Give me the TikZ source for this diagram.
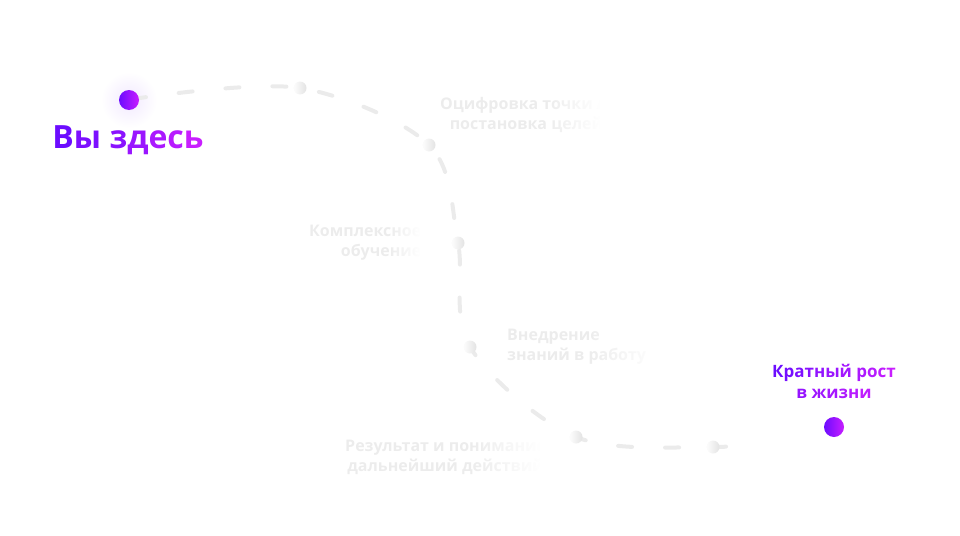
\documentclass[tikz,border=0pt]{standalone}
\usepackage{fontspec}
\setmainfont{Open Sans}
\usetikzlibrary{fadings}

\definecolor{vStart}{HTML}{6C0CFF}
\definecolor{vEnd}{HTML}{C81EFF}
\colorlet{vLineA}{vStart!55!vEnd}
\colorlet{vLineB}{vStart!10!vEnd}
\definecolor{pathgray}{HTML}{EBEBEB}
\definecolor{labelgray}{HTML}{ECECEC}

% colour each letter between two colours
\ExplSyntaxOn
\int_new:N \l_grad_pos_int
\int_new:N \l_grad_len_int
\seq_new:N \l_grad_words_seq
\NewDocumentCommand \gradtext { m m m }
  {
    \int_set:Nn \l_grad_len_int { \tl_count:n {#3} }
    \int_zero:N \l_grad_pos_int
    \seq_set_split:Nnn \l_grad_words_seq { ~ } {#3}
    \seq_map_indexed_inline:Nn \l_grad_words_seq
      {
        \int_compare:nNnT {##1} > { 1 } { \c_space_tl }
        \tl_map_inline:nn {##2}
          {
            \exp_args:Nx \color
              { #2 ! \int_eval:n { 100 * \l_grad_pos_int / \int_max:nn { 1 } { \l_grad_len_int - 1 } } ! #1 }
            ####1
            \int_incr:N \l_grad_pos_int
          }
      }
  }
\ExplSyntaxOff

\tikzfading[name=faderight, left color=transparent!100, right color=transparent!0]

\tikzset{
  stepdot/.style={circle, inner sep=0pt, minimum size=13pt, left color=black!1, right color=black!11},
  purpledot/.style={circle, inner sep=0pt, minimum size=20pt, left color=vStart, right color=vEnd},
  graylabel/.style={inner sep=0pt, text=labelgray, font=\fontsize{16}{20}\selectfont\bfseries},
  trail/.style={pathgray, line width=4pt, line cap=round, dash pattern=on 14pt off 33pt},
}

\begin{document}
\begin{tikzpicture}[x=1pt, y=-1pt]
  \useasboundingbox (0,0) rectangle (960,535);

  % labels along the way
  \node[graylabel, align=center, anchor=north west] (digit) at (440,97) {Оцифровка точки А,\\постановка целей};
  \node[graylabel, align=right, anchor=north west] (learn) at (309,225) {Комплексное\\обучение};
  \node[graylabel, align=left, anchor=north west] (apply) at (507,329) {Внедрение\\знаний в работу};
  \node[graylabel, align=center, anchor=north west] (result) at (345,440) {Результат и понимание\\дальнейший действий};

  % labels fade out to the right
  \fill[white, path fading=faderight] (545,92) rectangle (600,142);
  \fill[white] (600,92) rectangle (680,142);
  \fill[white, path fading=faderight] (388,220) rectangle (420,266);
  \fill[white] (420,220) rectangle (446,266);
  \fill[white, path fading=faderight] (585,324) rectangle (660,370);
  \fill[white] (660,324) rectangle (700,370);
  \fill[white, path fading=faderight] (470,436) rectangle (540,480);
  \fill[white] (540,436) rectangle (600,480);

  % soft glow round the start
  \shade[inner color=vStart!9, outer color=white] (129,100) circle (28);

  % the trail
  \coordinate (start) at (140,98);
  \coordinate (p1) at (300,88);
  \coordinate (p2) at (429,145);
  \coordinate (p3) at (458,243);
  \coordinate (p4) at (470,347);
  \coordinate (p5) at (576,437);
  \coordinate (p6) at (713,447);
  \coordinate (finish) at (745,441);
  \draw[trail, dash phase=8pt] plot[smooth, tension=0.55] coordinates {(start) (p1) (p2) (p3) (p4) (p5) (p6) (finish)};

  \foreach \i in {1,...,6}
    \node[stepdot] (s\i) at (p\i) {};

  % you are here
  \node[purpledot] (here) at (129,100) {};
  \node[anchor=base, inner sep=0pt, font=\fontsize{32}{38}\selectfont\bfseries] (hereLabel) at (128,148) {\gradtext{vStart}{vEnd}{Вы здесь}};

  % goal
  \node[purpledot] (goal) at (834,427) {};
  \node[anchor=north, inner sep=0pt, align=center, font=\fontsize{17}{21}\selectfont\bfseries] (goalLabel) at (834,364)
    {\gradtext{vStart}{vEnd}{Кратный рост}\\\gradtext{vLineA}{vLineB}{в жизни}};
\end{tikzpicture}
\end{document}
